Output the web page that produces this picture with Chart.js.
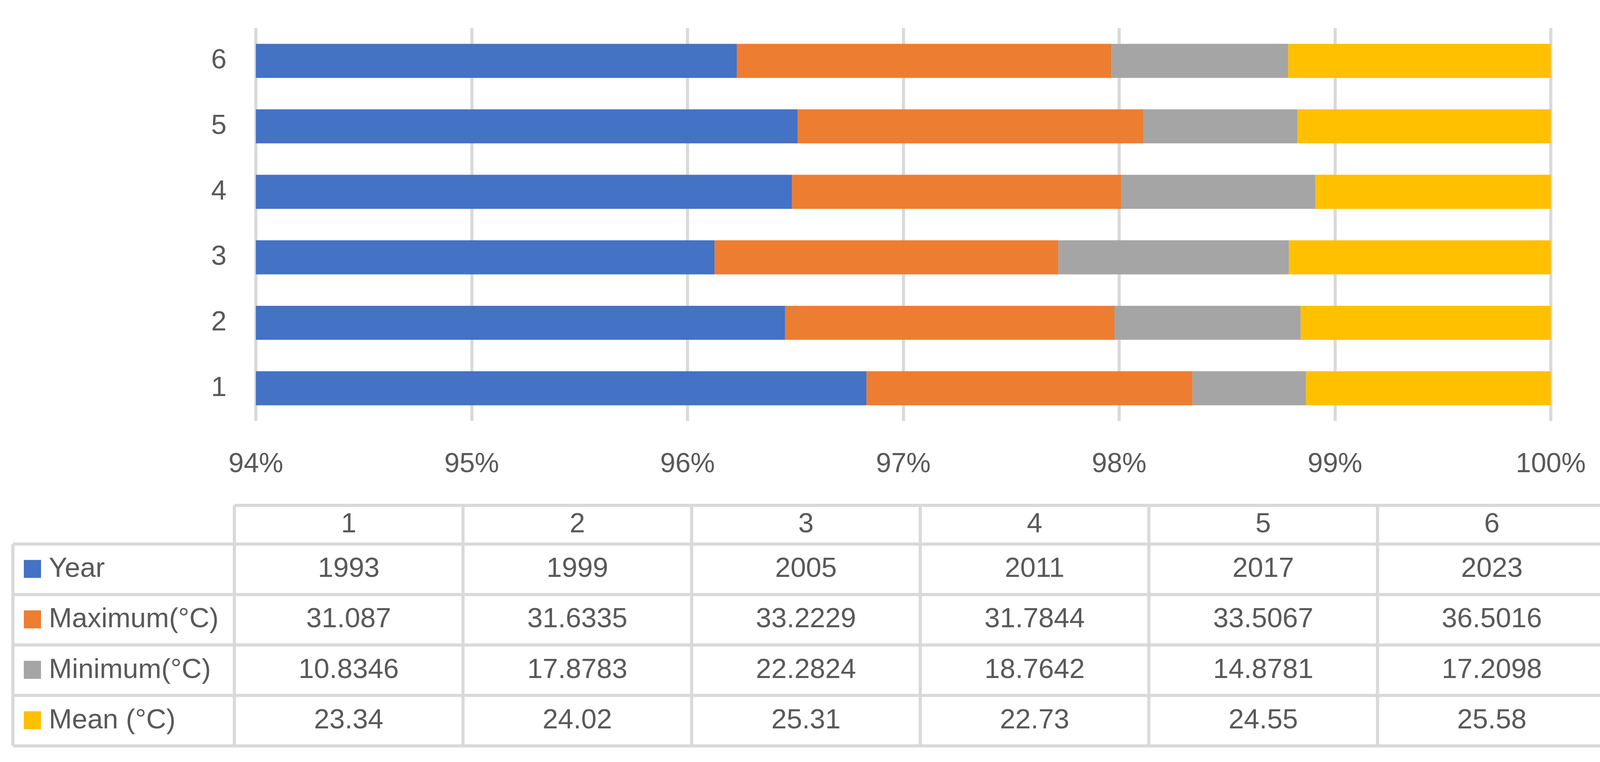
<!DOCTYPE html>
<html>
<head>
<meta charset="utf-8">
<script src="https://cdn.jsdelivr.net/npm/chart.js@4/dist/chart.umd.min.js"></script>
<style>
    html, body { margin: 0; padding: 0; background: #ffffff; }
    #wrap { width: 4158px; height: 1951px; }
</style>
</head>
<body>
<div id="wrap"><canvas id="tempChart" width="4158" height="1951"></canvas></div>
<script>
const categories = ["1", "2", "3", "4", "5", "6"];
const years = [1993, 1999, 2005, 2011, 2017, 2023];
const maxTemp = [31.087, 31.6335, 33.2229, 31.7844, 33.5067, 36.5016];
const minTemp = [10.8346, 17.8783, 22.2824, 18.7642, 14.8781, 17.2098];
const meanTemp = [23.34, 24.02, 25.31, 22.73, 24.55, 25.58];

const seriesNames = ["Year", "Maximum(°C)", "Minimum(°C)", "Mean (°C)"];
const seriesValues = [years, maxTemp, minTemp, meanTemp];
const seriesColors = ["#4472C4", "#ED7D31", "#A5A5A5", "#FFC000"];

const FONT = "'Liberation Sans', Arial, sans-serif";
const TEXT = "#595959";
const LINE = "#D9D9D9";

// 100% stacked: each series as a share of the category total
const totals = categories.map((c, i) => seriesValues.reduce((s, arr) => s + arr[i], 0));
const datasets = seriesValues.map((arr, k) => ({
    label: seriesNames[k],
    data: arr.map((v, i) => v / totals[i] * 100),
    backgroundColor: seriesColors[k],
    borderWidth: 0,
    barPercentage: 0.52,
    categoryPercentage: 1,
    clip: 0,
}));

// data table under the chart
const dataTable = {
    id: "dataTable",
    afterDraw(chart) {
        const ctx = chart.ctx;
        const left = 33, colStart = 600, colW = 585.3;
        const right = colStart + colW * categories.length;
        const top = 1294, headH = 99, rowH = 129.2;
        const rowTop = top + headH;
        const bottom = rowTop + rowH * seriesNames.length;

        ctx.save();
        ctx.strokeStyle = LINE;
        ctx.lineWidth = 8;
        ctx.beginPath();
        // header line only over the value columns
        ctx.moveTo(colStart, top); ctx.lineTo(right, top);
        for (let r = 0; r <= seriesNames.length; r++) {
            const y = rowTop + r * rowH;
            ctx.moveTo(left, y); ctx.lineTo(right, y);
        }
        ctx.moveTo(left, rowTop); ctx.lineTo(left, bottom);
        for (let c = 0; c <= categories.length; c++) {
            const x = colStart + c * colW;
            ctx.moveTo(x, top); ctx.lineTo(x, bottom);
        }
        ctx.stroke();

        ctx.font = "71px " + FONT;
        ctx.fillStyle = TEXT;
        ctx.textBaseline = "middle";
        ctx.textAlign = "center";
        categories.forEach((c, i) => {
            ctx.fillText(c, colStart + colW * (i + 0.5), top + headH / 2);
        });

        seriesNames.forEach((name, k) => {
            const cy = rowTop + rowH * (k + 0.5);
            ctx.fillStyle = seriesColors[k];
            ctx.fillRect(61, cy - 24, 44, 46);
            ctx.fillStyle = TEXT;
            ctx.textAlign = "left";
            ctx.fillText(name, 125, cy);
            ctx.textAlign = "center";
            seriesValues[k].forEach((v, i) => {
                ctx.fillText(String(v), colStart + colW * (i + 0.5), cy);
            });
        });
        ctx.restore();
    }
};

const ctx = document.getElementById("tempChart").getContext("2d");
new Chart(ctx, {
    type: "bar",
    data: { labels: categories, datasets: datasets },
    plugins: [dataTable],
    options: {
        indexAxis: "y",
        responsive: false,
        animation: false,
        devicePixelRatio: 1,
        layout: { padding: { top: 72, right: 188, bottom: 693, left: 0 } },
        plugins: {
            legend: { display: false },
            tooltip: { enabled: false },
        },
        scales: {
            x: {
                stacked: true,
                min: 94,
                max: 100,
                ticks: {
                    stepSize: 1,
                    padding: 70,
                    color: TEXT,
                    font: { family: FONT, size: 70 },
                    callback: v => v + "%",
                },
                grid: { color: LINE, lineWidth: 8, drawTicks: false },
                border: { display: false },
                afterFit: scale => { scale.height = 180; },
            },
            y: {
                stacked: true,
                reverse: true,
                ticks: {
                    padding: 75,
                    color: TEXT,
                    font: { family: FONT, size: 71 },
                },
                grid: { display: false, drawTicks: false },
                border: { display: false },
                afterFit: scale => {
                    scale.width = 655;
                    scale.paddingTop = 0;
                    scale.paddingBottom = 0;
                },
            },
        },
    },
});
</script>
</body>
</html>
